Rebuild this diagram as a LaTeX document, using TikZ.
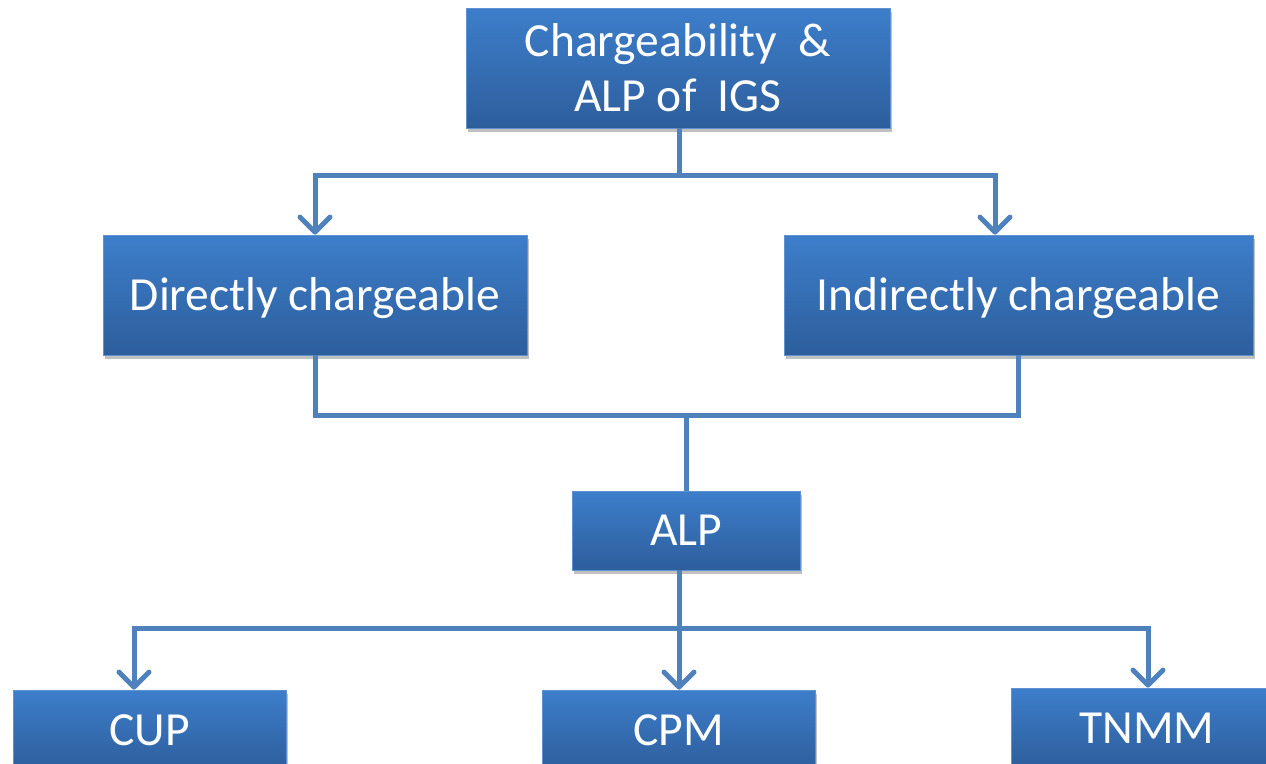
\documentclass[tikz,border=0pt]{standalone}
\usepackage{fontspec}
\setmainfont{Carlito}
\usetikzlibrary{arrows.meta,shadows}
\definecolor{boxtop}{RGB}{61,126,203}
\definecolor{boxbot}{RGB}{45,94,156}
\definecolor{boxedge}{RGB}{96,146,210}
\definecolor{linkblue}{RGB}{79,129,189}
\tikzset{
  box/.style={rectangle, draw=boxedge, line width=0.8pt,
    top color=boxtop, bottom color=boxbot, text=white,
    font=\fontsize{47.5}{55}\selectfont, inner sep=0pt,
    drop shadow={shadow xshift=2pt, shadow yshift=-4pt, opacity=0.35, fill=black!70}},
  onebox/.style={box, text height=30.5pt, text depth=0pt},
  link/.style={draw=linkblue, line width=5pt},
  arrowlink/.style={link, -{Straight Barb[length=15pt, width=30pt, line width=5pt, round]}}
}
\begin{document}
\begin{tikzpicture}[x=1pt, y=-1pt]
  \useasboundingbox[fill=white] (0,0) rectangle (1266,763);
  % boxes
  \node[box, minimum width=424pt, minimum height=120pt, align=center] (top) at (678,68)
    {Chargeability\ \ \&\\ALP of\ \ IGS};
  \node[onebox, minimum width=424pt, minimum height=120pt] (direct) at (315,295) {Directly chargeable};
  \node[onebox, minimum width=469pt, minimum height=120pt] (indirect) at (1018.5,295) {Indirectly chargeable};
  \node[onebox, minimum width=228pt, minimum height=79pt] (alp) at (686,530.5) {ALP};
  \node[onebox, minimum width=273pt, minimum height=80pt] (cup) at (149.5,730) {CUP};
  \node[onebox, minimum width=273pt, minimum height=80pt] (cpm) at (678.5,730) {CPM};
  \node[onebox, minimum width=272pt, minimum height=80pt] (tnmm) at (1147,728) {TNMM};
  % connector anchors
  \coordinate (split1) at (679,175);
  \coordinate (merge) at (686,415);
  \coordinate (split2) at (679,628);
  % top to the two kinds of chargeability
  \draw[link] (top.south -| split1) -- (split1);
  \draw[arrowlink] (split1) -| (direct.north);
  \draw[arrowlink] (split1) -| ([xshift=-23.5pt]indirect.north);
  % both kinds merge into ALP
  \draw[link] (direct.south) |- (merge) -| (indirect.south);
  \draw[link] (merge) -- (alp.north);
  % ALP to the methods
  \draw[link] (alp.south -| split2) -- (split2);
  \draw[arrowlink] (split2) -| ([xshift=-15.5pt]cup.north);
  \draw[arrowlink] (split2) -- (cpm.north -| split2);
  \draw[arrowlink] (split2) -| ([xshift=1pt]tnmm.north);
\end{tikzpicture}
\end{document}
